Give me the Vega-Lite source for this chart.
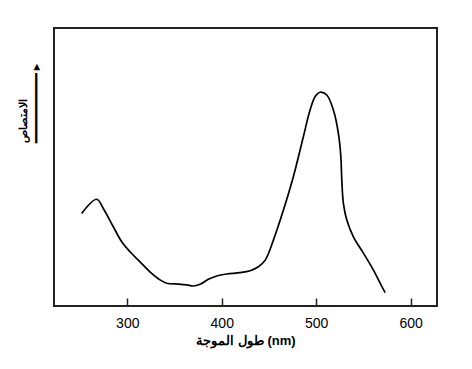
{
  "$schema": "https://vega.github.io/schema/vega-lite/v6.json",
  "autosize": "none",
  "width": 383,
  "height": 278,
  "padding": {"left": 54, "top": 28, "right": 35, "bottom": 63},
  "background": "white",
  "config": {
    "view": {"stroke": "#222", "strokeWidth": 2},
    "axis": {"grid": false, "labelFont": "Liberation Sans", "titleFont": "Liberation Sans"}
  },
  "data": {"values": [
    {"nm": 251.7, "abs": 0.333},
    {"nm": 267.6, "abs": 0.384},
    {"nm": 274.6, "abs": 0.351},
    {"nm": 285.2, "abs": 0.285},
    {"nm": 294.1, "abs": 0.231},
    {"nm": 302.9, "abs": 0.195},
    {"nm": 313.5, "abs": 0.159},
    {"nm": 324.0, "abs": 0.123},
    {"nm": 334.6, "abs": 0.094},
    {"nm": 341.7, "abs": 0.082},
    {"nm": 354.0, "abs": 0.079},
    {"nm": 362.9, "abs": 0.076},
    {"nm": 369.9, "abs": 0.072},
    {"nm": 377.0, "abs": 0.078},
    {"nm": 385.8, "abs": 0.096},
    {"nm": 394.7, "abs": 0.108},
    {"nm": 405.3, "abs": 0.115},
    {"nm": 419.4, "abs": 0.120},
    {"nm": 430.0, "abs": 0.127},
    {"nm": 438.8, "abs": 0.141},
    {"nm": 446.0, "abs": 0.165},
    {"nm": 454.7, "abs": 0.237},
    {"nm": 465.3, "abs": 0.345},
    {"nm": 475.8, "abs": 0.465},
    {"nm": 486.4, "abs": 0.609},
    {"nm": 493.5, "abs": 0.705},
    {"nm": 498.8, "abs": 0.753},
    {"nm": 504.1, "abs": 0.769},
    {"nm": 511.2, "abs": 0.759},
    {"nm": 518.2, "abs": 0.705},
    {"nm": 523.5, "abs": 0.621},
    {"nm": 526.1, "abs": 0.537},
    {"nm": 527.1, "abs": 0.453},
    {"nm": 528.8, "abs": 0.369},
    {"nm": 532.4, "abs": 0.309},
    {"nm": 539.4, "abs": 0.249},
    {"nm": 550.0, "abs": 0.190},
    {"nm": 560.6, "abs": 0.129},
    {"nm": 567.7, "abs": 0.082},
    {"nm": 573.0, "abs": 0.048}
  ]},
  "mark": {"type": "line", "color": "black", "strokeWidth": 1.7, "interpolate": "catmull-rom"},
  "encoding": {
    "x": {
      "field": "nm", "type": "quantitative",
      "scale": {"domain": [222.4, 627.9], "nice": false, "zero": false},
      "axis": {
        "values": [300, 400, 500, 600],
        "domain": false,
        "offset": -8,
        "tickSize": 8, "tickColor": "#222", "tickWidth": 1.5,
        "labelFontSize": 14, "labelColor": "black", "labelPadding": 10,
        "title": "طول الموجة (nm)",
        "titleFontSize": 13, "titleFontWeight": "bold", "titleColor": "black", "titlePadding": 4
      }
    },
    "y": {
      "field": "abs", "type": "quantitative",
      "scale": {"domain": [0, 1]},
      "axis": {
        "labels": false, "ticks": false, "domain": false,
        "title": ["الامتصاص", "━━━━━━━━━━►"],
        "titleFontSize": 11, "titleFontWeight": "bold", "titleColor": "black",
        "titleAlign": "left", "titleBaseline": "middle", "titleLineHeight": 13,
        "titleX": -31, "titleY": 114, "titleAngle": -90
      }
    }
  }
}
